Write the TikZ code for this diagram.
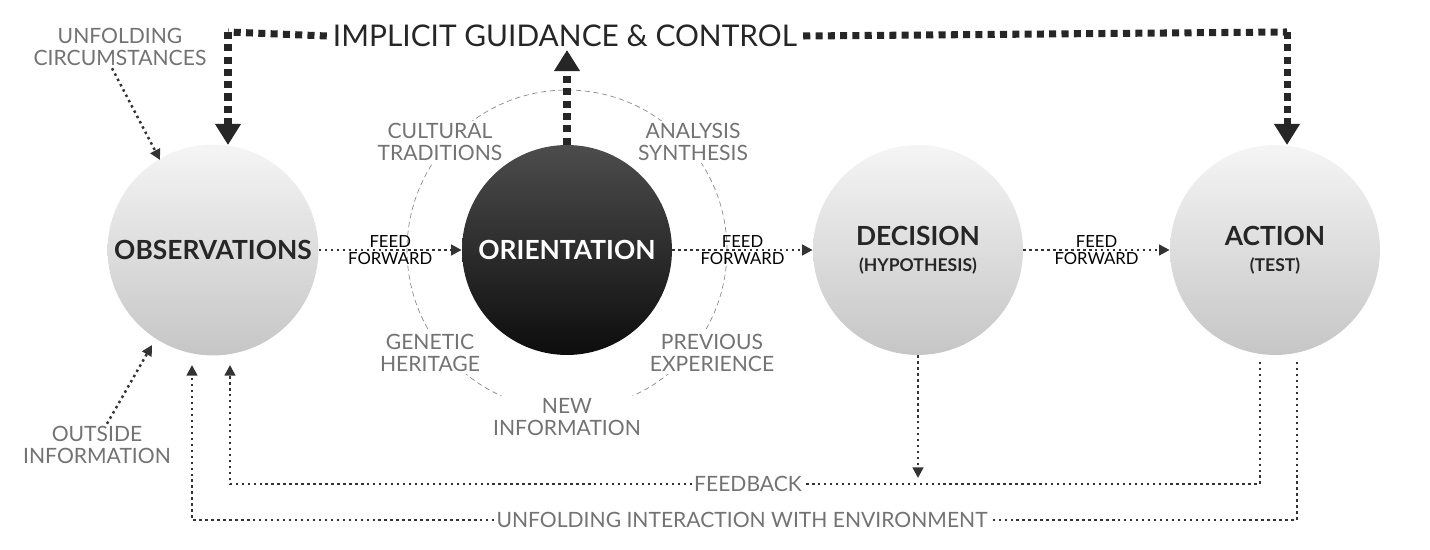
\documentclass[tikz,border=0pt]{standalone}
\usepackage{fontspec}
\setmainfont{Lato}
\usetikzlibrary{arrows.meta, positioning}
\tikzset{
	phase/.style={circle, minimum size=4.2cm, top color=gray!8, bottom color=gray!45, font=\bfseries\fontsize{15}{17}\selectfont, text=black!85, align=center},
	orient/.style={circle, minimum size=4.2cm, top color=black!70, bottom color=black!95, font=\bfseries\fontsize{15}{17}\selectfont, text=white},
	lbl/.style={font=\fontsize{12}{13}\selectfont, text=black!55, align=center, fill=white, inner sep=1pt},
	ff/.style={font=\fontsize{9.5}{10}\selectfont, align=center, inner sep=1pt},
	flow/.style={draw=black!80, line width=1.4pt, dotted, -{Triangle[length=6pt,width=6pt]}},
	big/.style={draw=black!85, line width=4pt, dash pattern=on 4pt off 3pt},
	bigarrow/.style={big, -{Triangle[length=12pt,width=14pt]}}
}
\begin{document}
\begin{tikzpicture}[x=0.02cm,y=-0.02cm]
	\useasboundingbox (0,0) rectangle (1430,550);
	
	% ring around orientation
	\draw[black!45, dashed, dash pattern=on 3pt off 2pt] (567,250) circle (3.2cm);
	
	\node[phase] (obs) at (213,250) {OBSERVATIONS};
	\node[orient] (ori) at (567,250) {ORIENTATION};
	\node[phase] (dec) at (918,250) {DECISION\\[-2pt]{\fontsize{10}{11}\selectfont (HYPOTHESIS)}};
	\node[phase] (act) at (1275,250) {ACTION\\[-2pt]{\fontsize{10}{11}\selectfont (TEST)}};
	
	\node[lbl] (cult) at (440,142) {CULTURAL\\TRADITIONS};
	\node[lbl] (anal) at (693,142) {ANALYSIS\\SYNTHESIS};
	\node[lbl] (gen) at (430,353) {GENETIC\\HERITAGE};
	\node[lbl] (prev) at (712,353) {PREVIOUS\\EXPERIENCE};
	\node[lbl] (new) at (567,417) {NEW\\INFORMATION};
	
	\node[lbl] (circ) at (120,47) {UNFOLDING\\CIRCUMSTANCES};
	\node[lbl] (out) at (97,445) {OUTSIDE\\INFORMATION};
	\node[font=\fontsize{17}{18}\selectfont, text=black!85] (igc) at (565,36) {IMPLICIT GUIDANCE \& CONTROL};
	\node[lbl] (fb) at (748,484) {FEEDBACK};
	\node[lbl] (uie) at (742,520) {UNFOLDING INTERACTION WITH ENVIRONMENT};
	
	% feed forward
	\draw[flow] (obs.east) -- node[ff]{FEED\\FORWARD} (ori.west);
	\draw[flow] (ori.east) -- node[ff]{FEED\\FORWARD} (dec.west);
	\draw[flow] (dec.east) -- node[ff]{FEED\\FORWARD} (act.west);
	
	% outside inputs
	\draw[flow] (circ.south) ++(-8,0) -- (160,160);
	\draw[flow] (out.north) ++(10,0) -- (152,345);
	
	% implicit guidance & control
	\coordinate (gl) at (228,32);
	\coordinate (gr) at (1287,32);
	\draw[big] (igc.west) -- (gl);
	\draw[bigarrow] (gl) -- (228,145);
	\draw[big] (igc.east) -- (gr);
	\draw[bigarrow] (gr) -- (1287,145);
	\draw[bigarrow] (ori.north) -- (567,50);
	
	% feedback
	\draw[flow, -] (1260,362) |- (fb.east);
	\draw[flow] (fb.west) -| (230,365);
	\draw[flow] (dec.south) -- (918,478);
	
	% unfolding interaction
	\draw[flow, -] (1297,362) |- (uie.east);
	\draw[flow] (uie.west) -| (192,365);
\end{tikzpicture}
\end{document}
